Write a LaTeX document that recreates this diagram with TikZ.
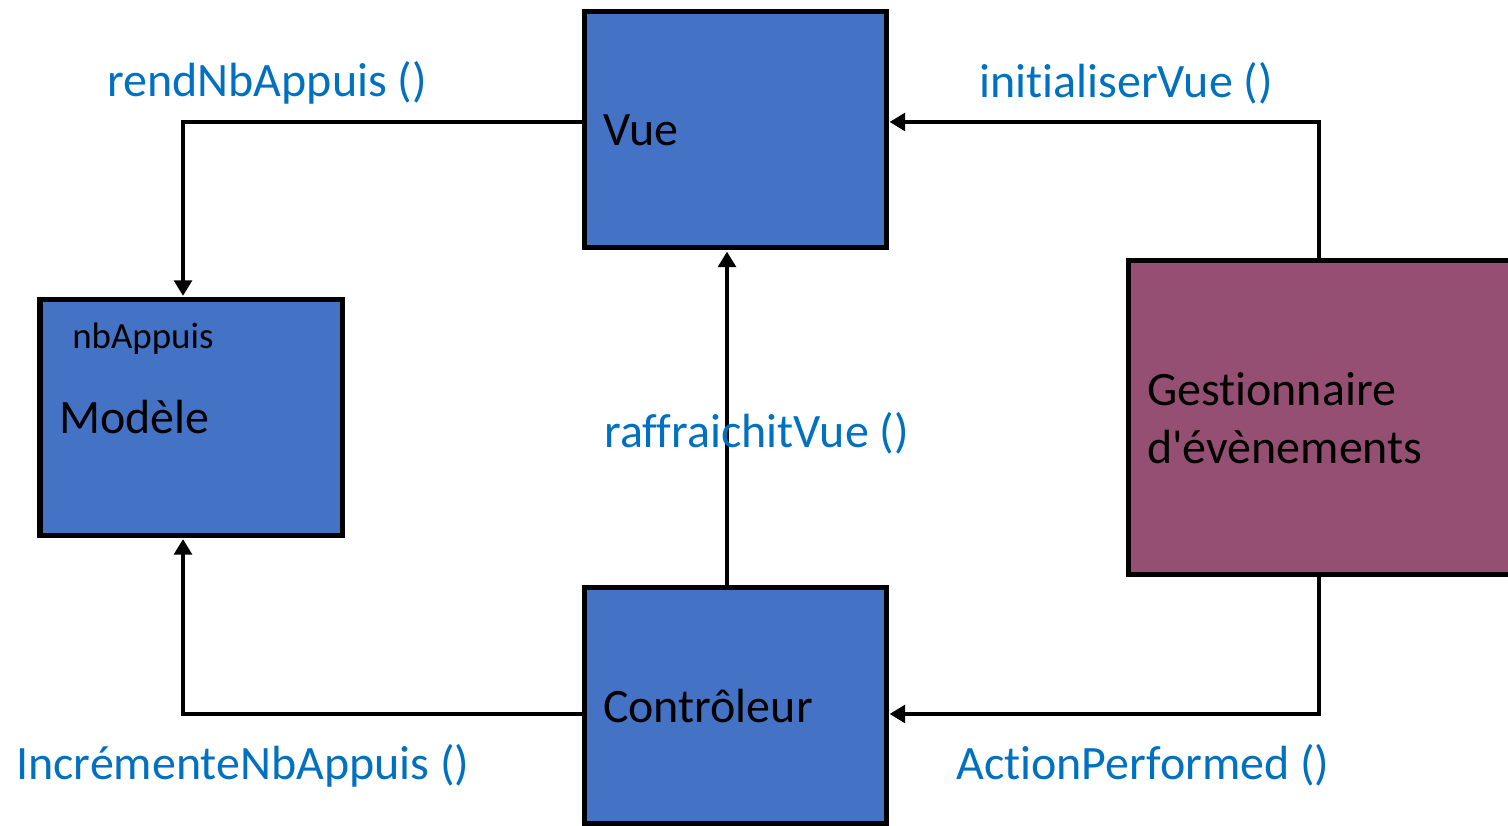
\documentclass[tikz,border=0pt]{standalone}
\usepackage{fontspec}
\newfontfamily\mvcfont{Carlito}[Ligatures=NoCommon, RawFeature={-liga;-clig;-calt;-dlig}]
\usepackage{tikz}
\usetikzlibrary{
  positioning,
  arrows.meta,
  calc
}
\definecolor{mvcbleu}{RGB}{68,114,196}
\definecolor{mvcviolet}{RGB}{149,79,114}
\definecolor{appelbleu}{RGB}{0,112,192}
\tikzset{
  mvcbox/.style={
    draw=black, fill=mvcbleu, line width=2.85pt,
    minimum width=6.04cm, minimum height=4.72cm,
    inner xsep=0.38cm, text width=5.28cm, align=left,
    font=\mvcfont\fontsize{27.3}{33}\selectfont
  },
  gestbox/.style={
    mvcbox, fill=mvcviolet,
    minimum width=7.64cm, minimum height=6.28cm, text width=6.88cm
  },
  appel/.style={
    anchor=base west, inner sep=0pt, text=appelbleu,
    font=\mvcfont\fontsize{27.3}{33}\selectfont
  },
  fleche/.style={
    -{Triangle[length=0.31cm,width=0.35cm]}, line width=2.28pt,
    draw=black, shorten >=0.6pt
  }
}

\begin{document}
\begin{tikzpicture}
    \clip (0,0) rectangle (30.16,16.52);

    % Boxes
    \node[mvcbox] (vue) at (14.70,13.92) {Vue};
    \node[mvcbox] (modele) at (3.82,8.17) {Modèle};
    \node[anchor=base west, inner sep=0pt, font=\mvcfont\fontsize{21}{25}\selectfont] (attr) at (1.44,9.55) {nbAppuis};
    \node[mvcbox] (ctrl) at (14.70,2.40) {Contrôleur};
    \node[gestbox] (gest) at (26.38,8.16) {Gestionnaire\\d'évènements};

    % Routing points
    \coordinate (coinhaut) at (3.66,14.08);
    \coordinate (coinbas) at (3.66,2.24);
    \coordinate (milieu) at (14.54,0);

    % Connectors
    \draw[fleche] (coinhaut -| vue.west) -| (coinhaut |- modele.north);
    \draw[fleche] (coinbas -| ctrl.west) -| (coinbas |- modele.south);
    \draw[fleche] (milieu |- ctrl.north) -- (milieu |- vue.south);
    \draw[fleche] (gest.north) |- (coinhaut -| vue.east);
    \draw[fleche] (gest.south) |- (coinbas -| ctrl.east);

    % Method labels
    \node[appel] (lrend) at (2.14,14.59) {rendNbAppuis ()};
    \node[appel] (linit) at (19.58,14.57) {initialiserVue ()};
    \node[appel] (lraf) at (12.08,7.56) {raffraichitVue ()};
    \node[appel] (lincr) at (0.32,0.93) {IncrémenteNbAppuis ()};
    \node[appel] (lact) at (19.12,0.93) {ActionPerformed ()};

\end{tikzpicture}
\end{document}
